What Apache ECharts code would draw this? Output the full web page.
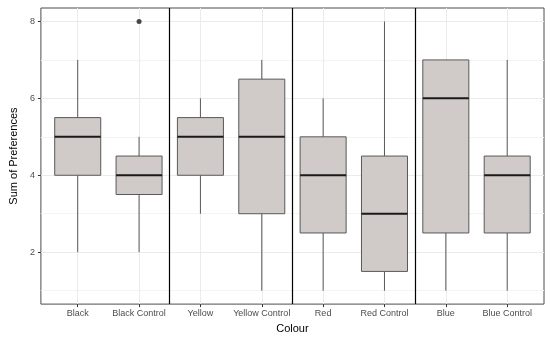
<!DOCTYPE html>
<html>
<head>
<meta charset="utf-8">
<script src="https://cdn.jsdelivr.net/npm/echarts@6/dist/echarts.min.js"></script>
<style>html,body{margin:0;padding:0;background:#fff}#c{width:550px;height:339px}</style>
</head>
<body>
<div id="c"></div>
<script>
const categories = ['Black', 'Black Control', 'Yellow', 'Yellow Control', 'Red', 'Red Control', 'Blue', 'Blue Control'];
// [min, Q1, median, Q3, max]
const boxStats = [
  [2, 4, 5, 5.5, 7],
  [2, 3.5, 4, 4.5, 5],
  [3, 4, 5, 5.5, 6],
  [1, 3, 5, 6.5, 7],
  [1, 2.5, 4, 5, 6],
  [1, 1.5, 3, 4.5, 8],
  [1, 2.5, 6, 7, 7],
  [1, 2.5, 4, 4.5, 7]
];
const outliers = [['Black Control', 8]];
const groupSeparators = [2.5, 4.5, 6.5];
const yMajorTicks = [2, 4, 6, 8];
const yMinorTicks = [1, 3, 5, 7];

const catPos = categories.map((c, i) => i + 1);
const boxData = boxStats.map((s, i) => [i + 1].concat(s));
const outlierData = outliers.map(o => [categories.indexOf(o[0]) + 1, o[1]]);

const chart = echarts.init(document.getElementById('c'));
const labelFont = { fontFamily: 'Liberation Sans, Arial, sans-serif', fontSize: 9, color: '#4d4d4d' };

chart.setOption({
  animation: false,
  grid: { left: 30, right: 6, top: 8, bottom: 31, show: true, borderColor: '#4d4d4d', borderWidth: 1, backgroundColor: 'transparent', containLabel: false },
  xAxis: {
    type: 'value', min: 0.4, max: 8.6,
    name: 'Colour', nameLocation: 'middle', nameGap: 17,
    nameTextStyle: { fontFamily: 'Liberation Sans, Arial, sans-serif', fontSize: 11, color: '#000' },
    axisLine: { show: false },
    axisTick: { show: true, length: 3, lineStyle: { color: '#333' }, customValues: catPos },
    axisLabel: Object.assign({ customValues: catPos, margin: 5, formatter: v => categories[Math.round(v) - 1] || '' }, labelFont),
    splitLine: { show: true, lineStyle: { color: '#ebebeb', width: 1 } }
  },
  yAxis: [{
    type: 'value', min: 0.65, max: 8.35,
    name: 'Sum of Preferences', nameLocation: 'middle', nameGap: 13,
    nameTextStyle: { fontFamily: 'Liberation Sans, Arial, sans-serif', fontSize: 11, color: '#000' },
    axisLine: { show: false },
    axisTick: { show: true, length: 3, lineStyle: { color: '#333' }, customValues: yMajorTicks },
    axisLabel: Object.assign({ customValues: yMajorTicks, margin: 6 }, labelFont),
    splitLine: { show: true, lineStyle: { color: '#ebebeb', width: 1 } }
  }, {
    type: 'value', min: 0.65, max: 8.35, position: 'left',
    axisLine: { show: false },
    axisTick: { show: false, customValues: yMinorTicks },
    axisLabel: { show: false, customValues: yMinorTicks },
    splitLine: { show: true, lineStyle: { color: '#f4f4f4', width: 1 } }
  }],
  series: [{
    type: 'custom',
    data: boxData,
    encode: { x: 0, y: [1, 2, 3, 4, 5] },
    z: 3,
    renderItem: function (params, api) {
      const x = api.value(0);
      const w = api.size([1, 0])[0] * 0.75;
      const pMin = api.coord([x, api.value(1)]);
      const pQ1 = api.coord([x, api.value(2)]);
      const pMed = api.coord([x, api.value(3)]);
      const pQ3 = api.coord([x, api.value(4)]);
      const pMax = api.coord([x, api.value(5)]);
      const cx = pMin[0];
      const stroke = '#595959';
      return {
        type: 'group',
        children: [
          { type: 'line', shape: { x1: cx, y1: pMax[1], x2: cx, y2: pQ3[1] }, style: { stroke: stroke, lineWidth: 1 } },
          { type: 'line', shape: { x1: cx, y1: pQ1[1], x2: cx, y2: pMin[1] }, style: { stroke: stroke, lineWidth: 1 } },
          { type: 'rect', shape: { x: cx - w / 2, y: pQ3[1], width: w, height: pQ1[1] - pQ3[1] }, style: { fill: '#d0cbc8', stroke: stroke, lineWidth: 1 } },
          { type: 'line', shape: { x1: cx - w / 2, y1: pMed[1], x2: cx + w / 2, y2: pMed[1] }, style: { stroke: '#1a1a1a', lineWidth: 2 } }
        ]
      };
    },
    markLine: {
      silent: true, symbol: 'none', label: { show: false },
      lineStyle: { color: '#000', width: 1.2, type: 'solid' },
      data: groupSeparators.map(v => ({ xAxis: v }))
    }
  }, {
    type: 'scatter',
    data: outlierData,
    symbolSize: 5,
    itemStyle: { color: '#1a1a1a' },
    z: 4
  }]
});
</script>
</body>
</html>
